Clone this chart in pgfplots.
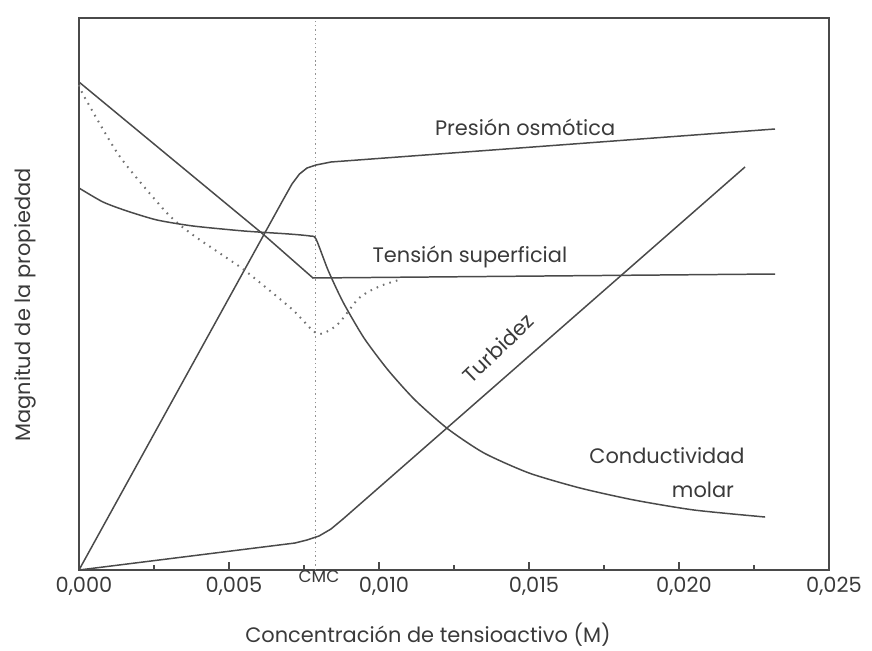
\documentclass[border=0pt]{standalone}
\usepackage{fontspec}
\setmainfont{Poppins}
\usepackage{pgfplots}
\pgfplotsset{compat=1.18}

\definecolor{ink}{HTML}{4A4A4A}
\definecolor{txt}{HTML}{3A3A3A}

\begin{document}
\begin{tikzpicture}
\begin{axis}[
	scale only axis,
	width=375bp,
	height=276bp,
	xmin=0, xmax=0.025,
	ymin=0, ymax=552,
	clip=false,
	scaled x ticks=false,
	axis line style={ink, line width=0.7pt},
	xtick={0,0.005,0.010,0.015,0.020,0.025},
	xticklabels={{0,000},{0,005},{0,010},{0,015},{0,020},{0,025}},
	minor x tick num=1,
	xtick pos=bottom,
	tick align=inside,
	major tick length=4bp,
	minor tick length=2.5bp,
	tick style={ink, line width=0.6pt},
	ytick=\empty,
	xticklabel style={font=\fontsize{10.5}{12}\selectfont, text=txt, xshift=2.5bp},
	every axis plot/.append style={ink, line width=0.75pt},
	]

	% frame of the page, pixels of the reference
	\path[use as bounding box] (axis cs:-0.002633,-80) rectangle (axis cs:0.026433,570);

	% CMC marker
	\addplot[gray!85, line width=0.55pt, dash pattern=on 0.7pt off 1.5pt] coordinates {
		(0.00787,0) (0.00787,552)};

	% presion osmotica
	\addplot[sharp plot] coordinates {
		(0.0000,0)
		(0.0068,370)
		(0.0071,386)
		(0.00735,396)
		(0.0076,402)
		(0.0079,405)
		(0.0084,408)
		(0.02320,441)};

	% tension superficial
	\addplot[sharp plot] coordinates {
		(0.0000,488)
		(0.00613,336)
		(0.00780,292)
		(0.02320,296)};

	% tension superficial, with impurities (dotted)
	\addplot[smooth, tension=0.4, gray!90!black, line width=1pt, dash pattern=on 0.8pt off 2.6pt] coordinates {
		(0.0000,485)
		(0.0002,472)
		(0.00137,413)
		(0.00293,357)
		(0.0038,335)
		(0.00537,303)
		(0.00613,285)
		(0.00713,260)
		(0.00777,240)
		(0.00803,236)
		(0.00837,240)
		(0.0087,248)
		(0.00927,270)
		(0.00963,278)
		(0.01013,285)
		(0.01077,291)};

	% conductividad molar
	\addplot[smooth, tension=0.4] coordinates {
		(0.0000,382)
		(0.0008,368)
		(0.0016,359)
		(0.0026,350)
		(0.0038,344)
		(0.0055,339)
		(0.0070,336)
		(0.0077,334)
		(0.0079,331)
		(0.0083,300)
		(0.0088,268)
		(0.0095,232)
		(0.0103,200)
		(0.0112,170)
		(0.0123,141)
		(0.0135,117)
		(0.0150,97)
		(0.0167,82)
		(0.0185,70)
		(0.0205,60)
		(0.02287,53)};

	% turbidez
	\addplot[sharp plot] coordinates {
		(0.0000,0)
		(0.0072,27)
		(0.0076,30)
		(0.0080,34)
		(0.0084,41)
		(0.0088,51)
		(0.0222,403)};

	% labels
	\begin{scope}[font=\fontsize{10.5}{12}\selectfont, text=txt]
	\node at (axis cs:0.01487,443) {Presión osmótica};
	\node at (axis cs:0.01303,313) {Tensión superficial};
	\node[rotate=44] at (axis cs:0.01397,222) {Turbidez};
	\node at (axis cs:0.0196,114) {Conductividad};
	\node at (axis cs:0.0208,80) {molar};
	\node at (axis cs:0.01163,-65) {Concentración de tensioactivo (M)};
	\node[rotate=90] at (axis cs:-0.0018,265) {Magnitud de la propiedad};
	\end{scope}
	\node[font=\fontsize{8.5}{9}\selectfont, text=txt] at (axis cs:0.0080,-7) {CMC};
\end{axis}
\end{tikzpicture}
\end{document}
